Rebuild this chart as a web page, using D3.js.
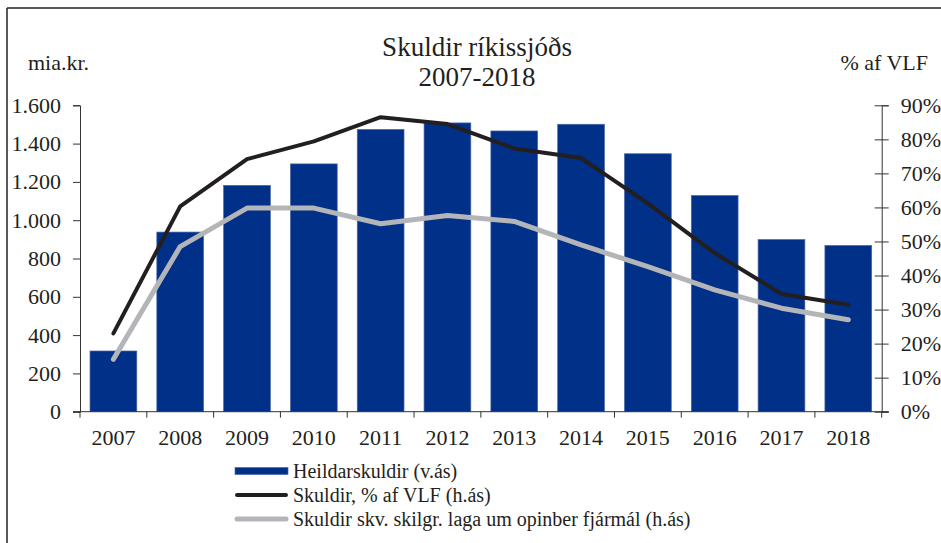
<!DOCTYPE html>
<html>
<head>
<meta charset="utf-8">
<script src="https://cdn.jsdelivr.net/npm/d3@7"></script>
<style>
    body { margin: 0; background: #fff; }
    svg { display: block; }
</style>
</head>
<body>
<div id="chart"></div>
<script>
// Data
const years = ['2007', '2008', '2009', '2010', '2011', '2012', '2013', '2014', '2015', '2016', '2017', '2018'];
const heildarskuldir = [317, 938, 1182, 1294, 1474, 1508, 1466, 1501, 1347, 1129, 899, 868];
const skuldirVlf = [23.0, 60.3, 74.2, 79.4, 86.5, 84.5, 77.3, 74.5, 61.2, 46.6, 34.6, 31.4];
const skuldirSkilgr = [15.4, 48.5, 59.8, 59.8, 55.2, 57.6, 55.9, 49.0, 42.6, 35.8, 30.4, 27.0];
const leftTicks = [0, 200, 400, 600, 800, 1000, 1200, 1400, 1600];
const rightTicks = [0, 10, 20, 30, 40, 50, 60, 70, 80, 90];
const legendLabels = [
    'Heildarskuldir (v.ás)',
    'Skuldir, % af VLF (h.ás)',
    'Skuldir skv. skilgr. laga um opinber fjármál (h.ás)'
];

const width = 941, height = 543;
const margin = { left: 80, right: 941 - 881.7, top: 105.3, bottom: 543 - 411.7 };
const axisColor = '#333';
const barColor = '#003087';
const blackColor = '#231f20';
const grayColor = '#b4b5b8';
const textColor = '#231f20';
const serif = '"Liberation Serif", "Times New Roman", serif';

const svg = d3.select('#chart').append('svg')
    .attr('width', width)
    .attr('height', height);

// frame (top and left edges)
svg.append('line').attr('x1', 7).attr('x2', width).attr('y1', 8).attr('y2', 8)
    .attr('stroke', '#222').attr('stroke-width', 1.5);
svg.append('line').attr('x1', 7).attr('x2', 7).attr('y1', 8).attr('y2', height)
    .attr('stroke', '#222').attr('stroke-width', 1.5);

const x = d3.scaleBand()
    .domain(years)
    .range([margin.left, width - margin.right])
    .paddingInner(0.3)
    .paddingOuter(0.15);

const yLeft = d3.scaleLinear().domain([0, 1600]).range([height - margin.bottom, margin.top]);
const yRight = d3.scaleLinear().domain([0, 90]).range([height - margin.bottom, margin.top]);

const fmtThousands = d3.formatLocale({ decimal: ',', thousands: '.', grouping: [3], currency: ['', ''] }).format(',d');

// bars
svg.append('g')
    .selectAll('rect')
    .data(years)
    .enter().append('rect')
    .attr('x', d => x(d))
    .attr('width', x.bandwidth())
    .attr('y', (d, i) => yLeft(heildarskuldir[i]))
    .attr('height', (d, i) => yLeft(0) - yLeft(heildarskuldir[i]))
    .attr('fill', barColor)
    .attr('stroke', '#4a68a6')
    .attr('stroke-width', 0.7);

// left axis
const leftAxis = svg.append('g')
    .attr('transform', `translate(${margin.left},0)`)
    .call(d3.axisLeft(yLeft).tickValues(leftTicks).tickSize(7).tickPadding(12).tickFormat(fmtThousands));
leftAxis.select('.domain').attr('stroke', axisColor);
leftAxis.selectAll('.tick line').attr('stroke', axisColor);
leftAxis.selectAll('text').attr('font-size', 22);

// right axis, ticks cross the line
const rx = width - margin.right;
const rightAxis = svg.append('g')
    .attr('transform', `translate(${rx},0)`)
    .call(d3.axisRight(yRight).tickValues(rightTicks).tickSize(7).tickPadding(12).tickFormat(d => d + '%'));
rightAxis.select('.domain').attr('stroke', axisColor);
rightAxis.selectAll('.tick line').attr('x1', -7).attr('stroke', axisColor);
rightAxis.selectAll('text').attr('font-size', 22);

// x axis: baseline with ticks between categories
const baseY = yLeft(0);
const xAxis = svg.append('g');
xAxis.append('line')
    .attr('x1', margin.left - 7).attr('x2', rx + 7)
    .attr('y1', baseY).attr('y2', baseY)
    .attr('stroke', axisColor);
const boundaries = years.map(d => x(d) - x.step() * x.paddingInner() / 2).concat([rx]);
xAxis.selectAll('.xtick')
    .data(boundaries)
    .enter().append('line')
    .attr('x1', d => d).attr('x2', d => d)
    .attr('y1', baseY).attr('y2', baseY + 6)
    .attr('stroke', axisColor);
xAxis.selectAll('text')
    .data(years)
    .enter().append('text')
    .attr('x', d => x(d) + x.bandwidth() / 2)
    .attr('y', baseY + 33)
    .attr('text-anchor', 'middle')
    .attr('font-size', 22)
    .text(d => d);

// lines
const cx = d => x(d) + x.bandwidth() / 2;
const lineGen = vals => d3.line()
    .x((d, i) => cx(years[i]))
    .y(d => yRight(d))(vals);

svg.append('path')
    .attr('d', lineGen(skuldirSkilgr))
    .attr('fill', 'none')
    .attr('stroke', grayColor)
    .attr('stroke-width', 5)
    .attr('stroke-linecap', 'round')
    .attr('stroke-linejoin', 'round');

svg.append('path')
    .attr('d', lineGen(skuldirVlf))
    .attr('fill', 'none')
    .attr('stroke', blackColor)
    .attr('stroke-width', 4)
    .attr('stroke-linecap', 'round')
    .attr('stroke-linejoin', 'round');

// titles
svg.append('text').attr('x', 477).attr('y', 56).attr('text-anchor', 'middle')
    .attr('font-size', 27).text('Skuldir ríkissjóðs');
svg.append('text').attr('x', 477).attr('y', 86).attr('text-anchor', 'middle')
    .attr('font-size', 27).text('2007-2018');
svg.append('text').attr('x', 28).attr('y', 70)
    .attr('font-size', 22).text('mia.kr.');
svg.append('text').attr('x', 928).attr('y', 70).attr('text-anchor', 'end')
    .attr('font-size', 22).text('% af VLF');

// legend
const legend = svg.append('g').attr('transform', 'translate(235, 471)');
const rowH = 24;
legend.append('rect')
    .attr('x', 0).attr('y', -3.5).attr('width', 53).attr('height', 7)
    .attr('fill', barColor).attr('stroke', '#4a68a6').attr('stroke-width', 0.7);
legend.append('line')
    .attr('x1', 2).attr('x2', 51).attr('y1', rowH).attr('y2', rowH)
    .attr('stroke', blackColor).attr('stroke-width', 4).attr('stroke-linecap', 'round');
legend.append('line')
    .attr('x1', 2).attr('x2', 51).attr('y1', rowH * 2).attr('y2', rowH * 2)
    .attr('stroke', grayColor).attr('stroke-width', 5).attr('stroke-linecap', 'round');
legend.selectAll('text')
    .data(legendLabels)
    .enter().append('text')
    .attr('x', 58)
    .attr('y', (d, i) => i * rowH)
    .attr('dy', '0.35em')
    .attr('font-size', 20)
    .text(d => d);

// serif everywhere (axis groups default to sans-serif)
svg.selectAll('g').attr('font-family', null);
svg.selectAll('text')
    .style('font-family', serif)
    .attr('fill', textColor);
</script>
</body>
</html>
